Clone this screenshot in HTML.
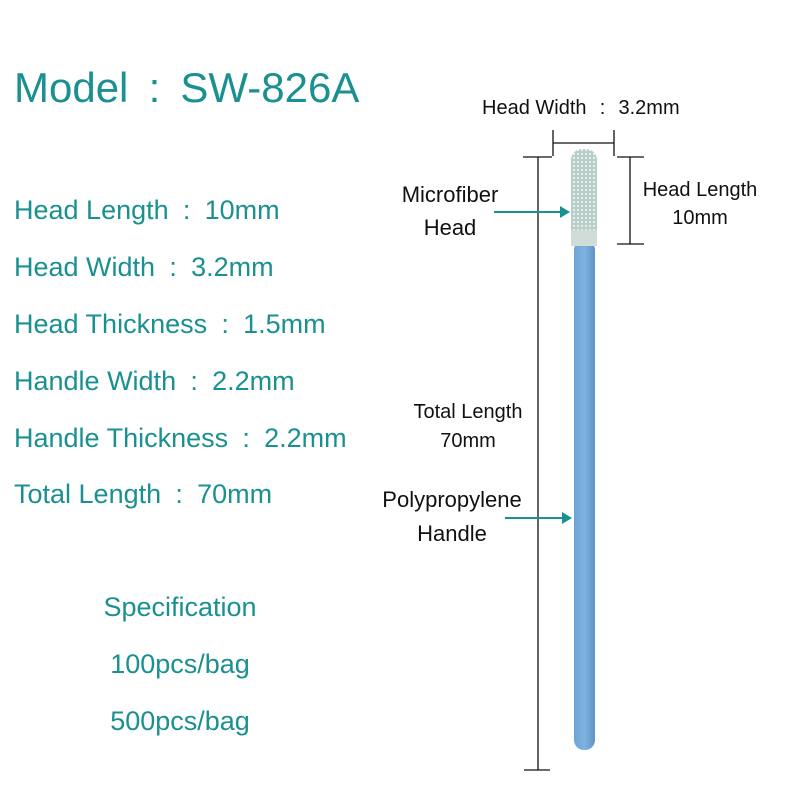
<!DOCTYPE html>
<html><head><style>
body{margin:0;width:800px;height:800px;background:#fff;position:relative;overflow:hidden;font-family:"Liberation Sans",sans-serif}
.t{position:absolute;color:#1a9090;white-space:nowrap}
.k{position:absolute;color:#111;white-space:nowrap;font-size:22px}
.c{text-align:center}
.co{display:inline-block;width:36px;text-align:center}
</style></head><body>
<div class="t" style="left:14px;top:64px;font-size:42px">Model<span class="co" style="width:52px">:</span>SW-826A</div>
<div class="t" style="left:14px;top:195px;font-size:27px">Head Length<span class="co">:</span>10mm</div>
<div class="t" style="left:14px;top:252px;font-size:27px">Head Width<span class="co">:</span>3.2mm</div>
<div class="t" style="left:14px;top:309px;font-size:27px">Head Thickness<span class="co">:</span>1.5mm</div>
<div class="t" style="left:14px;top:366px;font-size:27px">Handle Width<span class="co">:</span>2.2mm</div>
<div class="t" style="left:14px;top:423px;font-size:27px">Handle Thickness<span class="co">:</span>2.2mm</div>
<div class="t" style="left:14px;top:479px;font-size:27px">Total Length<span class="co">:</span>70mm</div>
<div class="t c" style="left:80px;width:200px;top:592px;font-size:27px">Specification</div>
<div class="t c" style="left:80px;width:200px;top:649px;font-size:27px">100pcs/bag</div>
<div class="t c" style="left:80px;width:200px;top:706px;font-size:27px">500pcs/bag</div>
<div class="k" style="left:482px;top:97px;font-size:20px">Head Width<span class="co" style="width:32px">:</span>3.2mm</div>
<div class="k c" style="left:380px;width:140px;top:178px;line-height:33px">Microfiber<br>Head</div>
<div class="k c" style="left:630px;width:140px;top:176px;font-size:20px;line-height:28px">Head Length<br>10mm</div>
<div class="k c" style="left:398px;width:140px;top:398px;font-size:20px;line-height:29px">Total Length<br>70mm</div>
<div class="k c" style="left:362px;width:180px;top:483px;line-height:34px">Polypropylene<br>Handle</div>
<svg width="800" height="800" style="position:absolute;left:0;top:0">
<defs>
<linearGradient id="h" x1="0" x2="1"><stop offset="0" stop-color="#6da3d6"/><stop offset=".5" stop-color="#7fb2e0"/><stop offset="1" stop-color="#5d92c8"/></linearGradient>
<pattern id="m" width="4" height="4" patternUnits="userSpaceOnUse"><rect width="4" height="4" fill="#b9cdc8"/><circle cx="2" cy="2" r="1.2" fill="#e4eeeb"/></pattern>
</defs>
<rect x="574" y="240" width="21" height="510" rx="10" fill="url(#h)"/>
<rect x="571" y="149" width="26" height="97" rx="11" fill="url(#m)"/>
<rect x="571" y="230" width="26" height="16" fill="#cfdcd8"/>
<g stroke="#111" stroke-width="1.3" fill="none">
<path d="M538 157V770M523 157H552M524 770H550"/>
<path d="M553 130V156M614 130V156M553 143H614"/>
<path d="M630 157V244M617 157H644M617 244H644"/>
</g>
<g stroke="#1a9090" stroke-width="2" fill="#1a9090">
<path d="M494 212H562"/><path d="M570 212L560 206V218Z" stroke="none"/>
<path d="M505 518H564"/><path d="M572 518L562 512V524Z" stroke="none"/>
</g>
</svg>
</body></html>
